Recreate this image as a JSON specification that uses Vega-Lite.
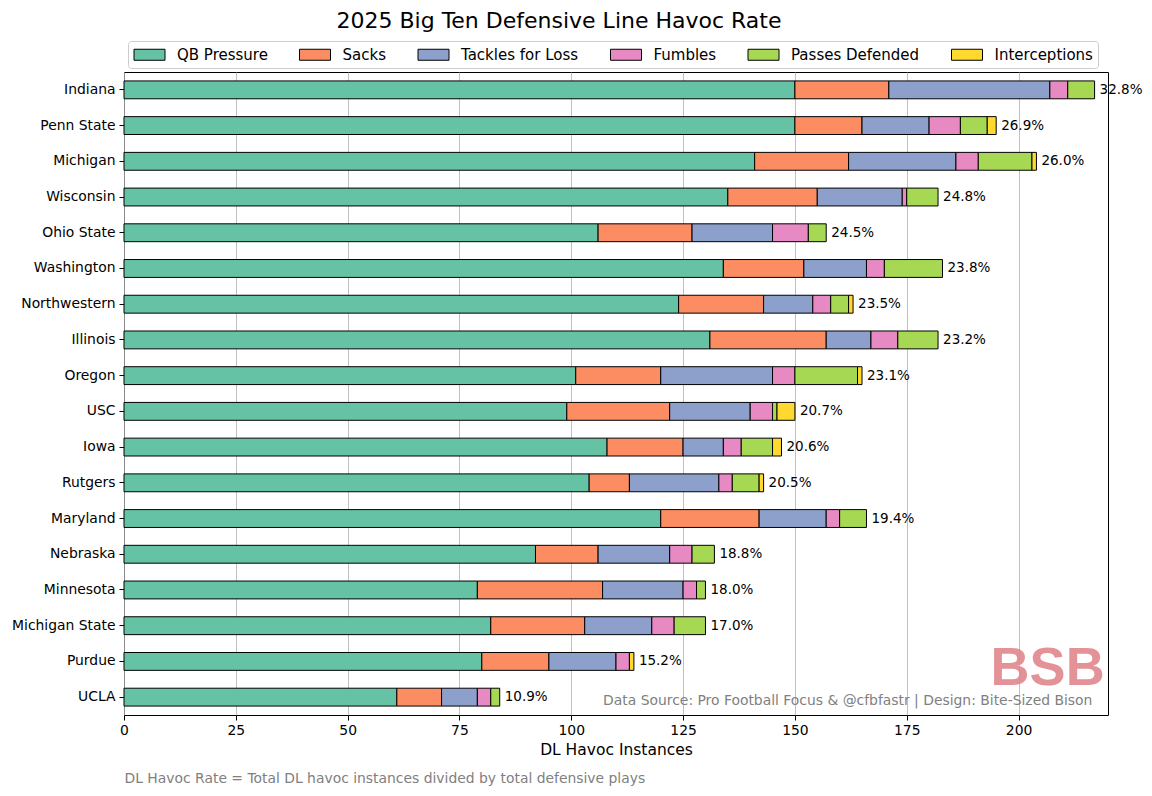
{
  "$schema": "https://vega.github.io/schema/vega-lite/v6.json",
  "width": 984,
  "height": 643,
  "autosize": {"type": "none"},
  "padding": {"left": 124, "top": 72, "right": 44, "bottom": 81},
  "background": "white",
  "title": {
    "text": "2025 Big Ten Defensive Line Havoc Rate",
    "fontSize": 22,
    "fontWeight": "normal",
    "font": "DejaVu Sans",
    "color": "black",
    "anchor": "middle",
    "frame": "group",
    "dx": -57,
    "baseline": "bottom",
    "offset": -14
  },
  "config": {
    "font": "DejaVu Sans",
    "view": {"stroke": "black", "strokeWidth": 1},
    "axis": {"labelFont": "DejaVu Sans", "titleFont": "DejaVu Sans", "labelColor": "black", "titleColor": "black", "tickColor": "black", "titleFontWeight": "normal"}
  },
  "datasets": {
    "segments": [
      {"team": "Indiana", "category": "QB Pressure", "value": 150},
      {"team": "Indiana", "category": "Sacks", "value": 21},
      {"team": "Indiana", "category": "Tackles for Loss", "value": 36},
      {"team": "Indiana", "category": "Fumbles", "value": 4},
      {"team": "Indiana", "category": "Passes Defended", "value": 6},
      {"team": "Penn State", "category": "QB Pressure", "value": 150},
      {"team": "Penn State", "category": "Sacks", "value": 15},
      {"team": "Penn State", "category": "Tackles for Loss", "value": 15},
      {"team": "Penn State", "category": "Fumbles", "value": 7},
      {"team": "Penn State", "category": "Passes Defended", "value": 6},
      {"team": "Penn State", "category": "Interceptions", "value": 2},
      {"team": "Michigan", "category": "QB Pressure", "value": 141},
      {"team": "Michigan", "category": "Sacks", "value": 21},
      {"team": "Michigan", "category": "Tackles for Loss", "value": 24},
      {"team": "Michigan", "category": "Fumbles", "value": 5},
      {"team": "Michigan", "category": "Passes Defended", "value": 12},
      {"team": "Michigan", "category": "Interceptions", "value": 1},
      {"team": "Wisconsin", "category": "QB Pressure", "value": 135},
      {"team": "Wisconsin", "category": "Sacks", "value": 20},
      {"team": "Wisconsin", "category": "Tackles for Loss", "value": 19},
      {"team": "Wisconsin", "category": "Fumbles", "value": 1},
      {"team": "Wisconsin", "category": "Passes Defended", "value": 7},
      {"team": "Ohio State", "category": "QB Pressure", "value": 106},
      {"team": "Ohio State", "category": "Sacks", "value": 21},
      {"team": "Ohio State", "category": "Tackles for Loss", "value": 18},
      {"team": "Ohio State", "category": "Fumbles", "value": 8},
      {"team": "Ohio State", "category": "Passes Defended", "value": 4},
      {"team": "Washington", "category": "QB Pressure", "value": 134},
      {"team": "Washington", "category": "Sacks", "value": 18},
      {"team": "Washington", "category": "Tackles for Loss", "value": 14},
      {"team": "Washington", "category": "Fumbles", "value": 4},
      {"team": "Washington", "category": "Passes Defended", "value": 13},
      {"team": "Northwestern", "category": "QB Pressure", "value": 124},
      {"team": "Northwestern", "category": "Sacks", "value": 19},
      {"team": "Northwestern", "category": "Tackles for Loss", "value": 11},
      {"team": "Northwestern", "category": "Fumbles", "value": 4},
      {"team": "Northwestern", "category": "Passes Defended", "value": 4},
      {"team": "Northwestern", "category": "Interceptions", "value": 1},
      {"team": "Illinois", "category": "QB Pressure", "value": 131},
      {"team": "Illinois", "category": "Sacks", "value": 26},
      {"team": "Illinois", "category": "Tackles for Loss", "value": 10},
      {"team": "Illinois", "category": "Fumbles", "value": 6},
      {"team": "Illinois", "category": "Passes Defended", "value": 9},
      {"team": "Oregon", "category": "QB Pressure", "value": 101},
      {"team": "Oregon", "category": "Sacks", "value": 19},
      {"team": "Oregon", "category": "Tackles for Loss", "value": 25},
      {"team": "Oregon", "category": "Fumbles", "value": 5},
      {"team": "Oregon", "category": "Passes Defended", "value": 14},
      {"team": "Oregon", "category": "Interceptions", "value": 1},
      {"team": "USC", "category": "QB Pressure", "value": 99},
      {"team": "USC", "category": "Sacks", "value": 23},
      {"team": "USC", "category": "Tackles for Loss", "value": 18},
      {"team": "USC", "category": "Fumbles", "value": 5},
      {"team": "USC", "category": "Passes Defended", "value": 1},
      {"team": "USC", "category": "Interceptions", "value": 4},
      {"team": "Iowa", "category": "QB Pressure", "value": 108},
      {"team": "Iowa", "category": "Sacks", "value": 17},
      {"team": "Iowa", "category": "Tackles for Loss", "value": 9},
      {"team": "Iowa", "category": "Fumbles", "value": 4},
      {"team": "Iowa", "category": "Passes Defended", "value": 7},
      {"team": "Iowa", "category": "Interceptions", "value": 2},
      {"team": "Rutgers", "category": "QB Pressure", "value": 104},
      {"team": "Rutgers", "category": "Sacks", "value": 9},
      {"team": "Rutgers", "category": "Tackles for Loss", "value": 20},
      {"team": "Rutgers", "category": "Fumbles", "value": 3},
      {"team": "Rutgers", "category": "Passes Defended", "value": 6},
      {"team": "Rutgers", "category": "Interceptions", "value": 1},
      {"team": "Maryland", "category": "QB Pressure", "value": 120},
      {"team": "Maryland", "category": "Sacks", "value": 22},
      {"team": "Maryland", "category": "Tackles for Loss", "value": 15},
      {"team": "Maryland", "category": "Fumbles", "value": 3},
      {"team": "Maryland", "category": "Passes Defended", "value": 6},
      {"team": "Nebraska", "category": "QB Pressure", "value": 92},
      {"team": "Nebraska", "category": "Sacks", "value": 14},
      {"team": "Nebraska", "category": "Tackles for Loss", "value": 16},
      {"team": "Nebraska", "category": "Fumbles", "value": 5},
      {"team": "Nebraska", "category": "Passes Defended", "value": 5},
      {"team": "Minnesota", "category": "QB Pressure", "value": 79},
      {"team": "Minnesota", "category": "Sacks", "value": 28},
      {"team": "Minnesota", "category": "Tackles for Loss", "value": 18},
      {"team": "Minnesota", "category": "Fumbles", "value": 3},
      {"team": "Minnesota", "category": "Passes Defended", "value": 2},
      {"team": "Michigan State", "category": "QB Pressure", "value": 82},
      {"team": "Michigan State", "category": "Sacks", "value": 21},
      {"team": "Michigan State", "category": "Tackles for Loss", "value": 15},
      {"team": "Michigan State", "category": "Fumbles", "value": 5},
      {"team": "Michigan State", "category": "Passes Defended", "value": 7},
      {"team": "Purdue", "category": "QB Pressure", "value": 80},
      {"team": "Purdue", "category": "Sacks", "value": 15},
      {"team": "Purdue", "category": "Tackles for Loss", "value": 15},
      {"team": "Purdue", "category": "Fumbles", "value": 3},
      {"team": "Purdue", "category": "Interceptions", "value": 1},
      {"team": "UCLA", "category": "QB Pressure", "value": 61},
      {"team": "UCLA", "category": "Sacks", "value": 10},
      {"team": "UCLA", "category": "Tackles for Loss", "value": 8},
      {"team": "UCLA", "category": "Fumbles", "value": 3},
      {"team": "UCLA", "category": "Passes Defended", "value": 2}
    ],
    "totals": [
      {"team": "Indiana", "total": 217, "rate": "32.8%"},
      {"team": "Penn State", "total": 195, "rate": "26.9%"},
      {"team": "Michigan", "total": 204, "rate": "26.0%"},
      {"team": "Wisconsin", "total": 182, "rate": "24.8%"},
      {"team": "Ohio State", "total": 157, "rate": "24.5%"},
      {"team": "Washington", "total": 183, "rate": "23.8%"},
      {"team": "Northwestern", "total": 163, "rate": "23.5%"},
      {"team": "Illinois", "total": 182, "rate": "23.2%"},
      {"team": "Oregon", "total": 165, "rate": "23.1%"},
      {"team": "USC", "total": 150, "rate": "20.7%"},
      {"team": "Iowa", "total": 147, "rate": "20.6%"},
      {"team": "Rutgers", "total": 143, "rate": "20.5%"},
      {"team": "Maryland", "total": 166, "rate": "19.4%"},
      {"team": "Nebraska", "total": 132, "rate": "18.8%"},
      {"team": "Minnesota", "total": 130, "rate": "18.0%"},
      {"team": "Michigan State", "total": 130, "rate": "17.0%"},
      {"team": "Purdue", "total": 114, "rate": "15.2%"},
      {"team": "UCLA", "total": 84, "rate": "10.9%"}
    ]
  },
  "resolve": {"axis": {"x": "independent"}},
  "layer": [
    {
      "data": {"name": "segments"},
      "transform": [
        {"calculate": "indexof(['QB Pressure', 'Sacks', 'Tackles for Loss', 'Fumbles', 'Passes Defended', 'Interceptions'], datum.category)", "as": "stack_order"}
      ],
      "mark": {"type": "bar", "stroke": "black", "strokeWidth": 1},
      "encoding": {
        "y": {
          "field": "team", "type": "nominal", "title": null,
          "scale": {
            "domain": ["Indiana", "Penn State", "Michigan", "Wisconsin", "Ohio State", "Washington", "Northwestern", "Illinois", "Oregon", "USC", "Iowa", "Rutgers", "Maryland", "Nebraska", "Minnesota", "Michigan State", "Purdue", "UCLA"],
            "paddingInner": 0.5, "paddingOuter": 0.25
          },
          "axis": {"domain": false, "grid": false, "tickSize": 5, "labelPadding": 4, "labelFontSize": 13.9, "ticks": true, "title": null}
        },
        "x": {
          "field": "value", "type": "quantitative", "aggregate": "sum", "stack": "zero",
          "scale": {"domain": [0, 220], "nice": false, "zero": true},
          "axis": {
            "orient": "bottom",
            "title": "DL Havoc Instances", "titleFontSize": 15.5, "titleBaseline": "middle", "titleY": 34,
            "values": [0, 25, 50, 75, 100, 125, 150, 175, 200],
            "grid": true, "gridColor": "#b0b0b0", "gridWidth": 0.8,
            "domain": false, "tickSize": 5, "labelPadding": 3, "labelFontSize": 13.9, "labelFlush": false
          }
        },
        "order": {"field": "stack_order", "type": "quantitative", "sort": "ascending"},
        "color": {
          "field": "category", "type": "nominal",
          "scale": {
            "domain": ["QB Pressure", "Sacks", "Tackles for Loss", "Fumbles", "Passes Defended", "Interceptions"],
            "range": ["#66c2a5", "#fc8d62", "#8da0cb", "#e78ac3", "#a6d854", "#ffd92f"]
          },
          "legend": {
            "title": null, "orient": "none", "legendX": 4, "legendY": -31,
            "direction": "horizontal", "columns": 6,
            "symbolType": "M-1.9375,-0.6875h3.875v1.375h-3.875z", "symbolSize": 256,
            "symbolStrokeColor": "black", "symbolStrokeWidth": 1, "symbolOpacity": 1,
            "symbolOffset": 8, "labelOffset": 19, "columnPadding": 29.5, "padding": 5,
            "strokeColor": "#cccccc", "cornerRadius": 3, "fillColor": "white",
            "labelFontSize": 15, "labelColor": "black", "labelFont": "DejaVu Sans"
          }
        }
      }
    },
    {
      "data": {"name": "totals"},
      "mark": {"type": "text", "align": "left", "baseline": "middle", "dx": 5, "fontSize": 13.5, "color": "black"},
      "encoding": {
        "y": {"field": "team", "type": "nominal"},
        "x": {"field": "total", "type": "quantitative", "axis": null},
        "text": {"field": "rate", "type": "nominal"}
      }
    },
    {
      "data": {"values": [{}]},
      "mark": {"type": "text", "align": "right", "baseline": "middle", "dy": 4, "fontSize": 13.9, "color": "#808080"},
      "encoding": {
        "y": {"datum": "UCLA", "type": "nominal"},
        "x": {
          "datum": 216.5, "type": "quantitative",
          "axis": {
            "orient": "bottom",
            "title": "DL Havoc Rate = Total DL havoc instances divided by total defensive plays",
            "titleAnchor": "start", "titleAlign": "left", "titleX": 0, "titleY": 63, "titleBaseline": "middle",
            "titleColor": "#808080", "titleFontSize": 13.9, "titleFontWeight": "normal",
            "labels": false, "ticks": false, "domain": false, "grid": false
          }
        },
        "text": {"value": "Data Source: Pro Football Focus & @cfbfastr | Design: Bite-Sized Bison"}
      }
    },
    {
      "data": {"values": [{}]},
      "mark": {"type": "text", "align": "center", "baseline": "alphabetic", "dy": 24, "fontSize": 54, "font": "Liberation Sans", "fontWeight": "bold", "color": "#e0888c", "opacity": 0.9},
      "encoding": {
        "y": {"datum": "Purdue", "type": "nominal"},
        "x": {"datum": 206.5, "type": "quantitative", "axis": null},
        "text": {"value": "BSB"}
      }
    }
  ]
}
